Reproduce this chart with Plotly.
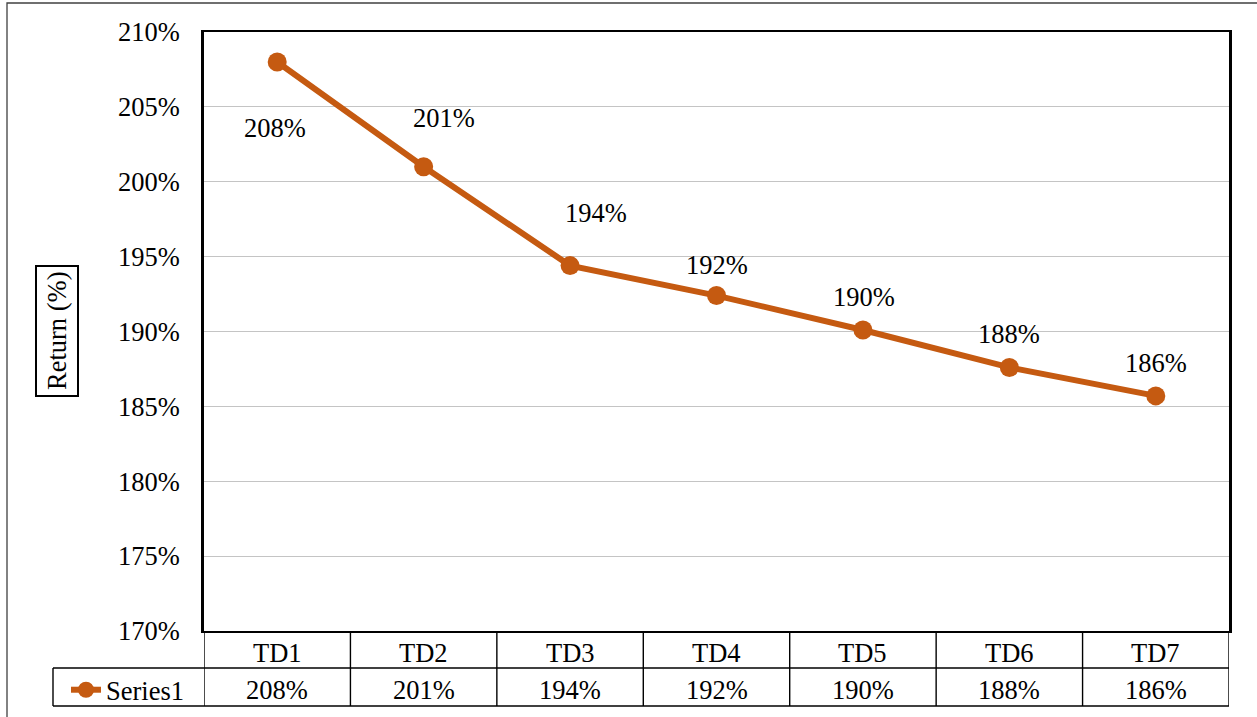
import plotly.graph_objects as go

categories = ["TD1", "TD2", "TD3", "TD4", "TD5", "TD6", "TD7"]
values = [2.08, 2.01, 1.944, 1.924, 1.901, 1.876, 1.857]
series_name = "Series1"
y_title = "Return (%)"
y_ticks = [1.70, 1.75, 1.80, 1.85, 1.90, 1.95, 2.00, 2.05, 2.10]

COLOR = "#C55A11"
FONT = "Liberation Serif"
FS = 26.5

# plot area geometry (pixels)
W, H = 1257, 717
L, R, T, B = 204, 1229, 32, 631
PW, PH = R - L, B - T


def px_x(px):
    return (px - L) / PW


def px_y(py):
    return (B - py) / PH


labels = [f"{v:.0%}" for v in values]
# label offsets (x, y) in pixels relative to each point
label_offsets = [(-2, -66), (20, 49), (26, 53), (0, 31), (1, 33), (0, 33), (0, 33)]

fig = go.Figure()
fig.add_trace(go.Scatter(
    x=categories, y=values, mode="lines+markers", name=series_name,
    line=dict(color=COLOR, width=6),
    marker=dict(color=COLOR, size=19, line=dict(color=COLOR, width=0)),
    showlegend=True,
))

annotations = []
for c, v, lab, (dx, dy) in zip(categories, values, labels, label_offsets):
    annotations.append(dict(x=c, y=v, xref="x", yref="y", text=lab, showarrow=False,
                            xanchor="center", yanchor="middle",
                            xshift=dx, yshift=dy, font=dict(family=FONT, size=FS, color="black")))

# data table: header row and value row
for c, lab in zip(categories, labels):
    annotations.append(dict(x=c, y=px_y(652.5), xref="x", yref="paper", text=c, showarrow=False,
                            xanchor="center", yanchor="middle",
                            font=dict(family=FONT, size=FS, color="black")))
    annotations.append(dict(x=c, y=px_y(690), xref="x", yref="paper", text=lab, showarrow=False,
                            xanchor="center", yanchor="middle",
                            font=dict(family=FONT, size=FS, color="black")))

# boxed y axis title
annotations.append(dict(x=px_x(56.5), y=px_y(331.5), xref="paper", yref="paper", text=y_title,
                        xanchor="center", yanchor="middle",
                        textangle=-90, showarrow=False, bordercolor="black", borderwidth=2,
                        borderpad=5, font=dict(family=FONT, size=FS, color="black")))

shapes = []
# vertical table lines at category boundaries
for i in range(len(categories) + 1):
    shapes.append(dict(type="line", xref="x", yref="paper", x0=i - 0.5, x1=i - 0.5,
                       y0=0, y1=px_y(706), line=dict(color="black", width=1.4)))
# horizontal table lines
for yy in (668, 706):
    shapes.append(dict(type="line", xref="paper", yref="paper", x0=px_x(53), x1=1.0,
                       y0=px_y(yy), y1=px_y(yy), line=dict(color="black", width=1.4)))
# legend cell left border
shapes.append(dict(type="line", xref="paper", yref="paper", x0=px_x(53), x1=px_x(53),
                   y0=px_y(668), y1=px_y(706), line=dict(color="black", width=1.4)))
# outer chart border
shapes.append(dict(type="rect", xref="paper", yref="paper", x0=px_x(7), x1=px_x(1265),
                   y0=px_y(725), y1=px_y(3), line=dict(color="#404040", width=1.3)))

fig.update_layout(
    width=W, height=H,
    margin=dict(l=L, r=W - R, t=T, b=H - B, pad=0, autoexpand=False),
    paper_bgcolor="white", plot_bgcolor="white",
    font=dict(family=FONT, size=FS, color="black"),
    xaxis=dict(type="category", range=[-0.5, 6.5], showticklabels=False, showgrid=False,
               showline=True, linecolor="black", linewidth=2, mirror=True, zeroline=False,
               fixedrange=True),
    yaxis=dict(range=[1.70, 2.10], tickvals=y_ticks, tickformat=".0%", showgrid=True,
               gridcolor="#C4C4C4", gridwidth=1, showline=True, linecolor="black",
               linewidth=2.5, mirror=True, zeroline=False, ticks="", ticklabelstandoff=16,
               tickfont=dict(family=FONT, size=FS, color="black")),
    legend=dict(x=px_x(66), y=px_y(690), xanchor="left", yanchor="middle",
                bgcolor="rgba(0,0,0,0)", borderwidth=0,
                font=dict(family=FONT, size=FS, color="black"), itemwidth=30,
                tracegroupgap=0),
    annotations=annotations,
    shapes=shapes,
)

fig.write_html("out.html", config={"displayModeBar": False},
               post_script="document.body.style.margin='0';")
